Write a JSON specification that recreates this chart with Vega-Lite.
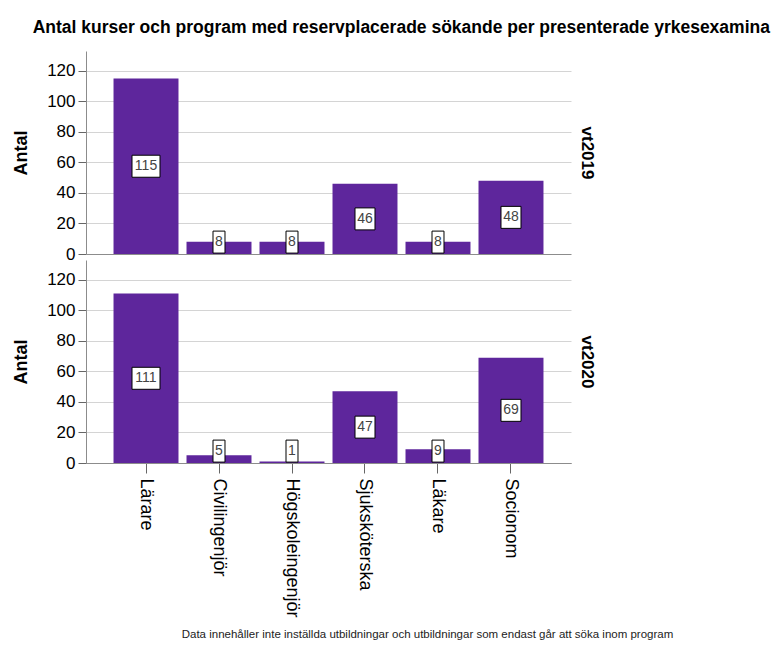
{
  "$schema": "https://vega.github.io/schema/vega-lite/v6.json",
  "padding": {"left": 12, "top": 18, "right": 2, "bottom": 5},
  "background": "white",
  "title": {
    "text": "Antal kurser och program med reservplacerade sökande per presenterade yrkesexamina",
    "anchor": "start",
    "frame": "bounds",
    "dx": 20,
    "fontSize": 17.5,
    "fontWeight": "bold",
    "font": "Liberation Sans",
    "color": "#000000",
    "offset": 15
  },
  "datasets": {
    "counts": [
      {"term": "vt2019", "category": "Lärare", "value": 115},
      {"term": "vt2019", "category": "Civilingenjör", "value": 8},
      {"term": "vt2019", "category": "Högskoleingenjör", "value": 8},
      {"term": "vt2019", "category": "Sjuksköterska", "value": 46},
      {"term": "vt2019", "category": "Läkare", "value": 8},
      {"term": "vt2019", "category": "Socionom", "value": 48},
      {"term": "vt2020", "category": "Lärare", "value": 111},
      {"term": "vt2020", "category": "Civilingenjör", "value": 5},
      {"term": "vt2020", "category": "Högskoleingenjör", "value": 1},
      {"term": "vt2020", "category": "Sjuksköterska", "value": 47},
      {"term": "vt2020", "category": "Läkare", "value": 9},
      {"term": "vt2020", "category": "Socionom", "value": 69}
    ]
  },
  "data": {"name": "counts"},
  "spacing": 6,
  "bounds": "flush",
  "vconcat": [
    {
      "width": 485,
      "height": 203,
      "transform": [{"filter": "datum.term === 'vt2019'"}],
      "resolve": {"scale": {"y": "independent"}},
      "layer": [
        {
          "mark": {"type": "bar", "color": "#5e269c"},
          "encoding": {
            "x": {
              "field": "category", "type": "nominal", "sort": null,
              "scale": {"paddingInner": 0.11, "paddingOuter": 0.377},
              "axis": null
            },
            "y": {
              "field": "value", "type": "quantitative",
              "scale": {"domain": [0, 133], "nice": false},
              "axis": {
                "title": "Antal",
                "values": [0, 20, 40, 60, 80, 100, 120],
                "titleFontSize": 18, "titleFontWeight": "bold", "titleFont": "Liberation Sans", "titleColor": "#000000",
                "titlePadding": 16,
                "labelFontSize": 17, "labelFont": "Liberation Sans", "labelColor": "#000000", "labelPadding": 3,
                "tickSize": 8, "tickColor": "#666666", "domainColor": "#8c8c8c",
                "grid": true,
                "gridColor": {"condition": {"test": "datum.value === 0", "value": "#8c8c8c"}, "value": "#d4d4d4"}
              }
            }
          }
        },
        {
          "transform": [{"filter": "datum.value < 10"}],
          "mark": {"type": "point", "shape": "M-0.545,-1L0.545,-1L0.545,1L-0.545,1Z", "size": 484, "filled": true, "fill": "#ffffff", "stroke": "#000000", "strokeWidth": 1, "opacity": 1},
          "encoding": {
            "x": {"field": "category", "type": "nominal", "sort": null},
            "y": {"datum": 15.6, "type": "quantitative", "scale": {"domain": [0, 266], "nice": false},
              "axis": {"orient": "right", "title": "vt2019", "labels": false, "ticks": false, "domain": false, "grid": false,
                "titleFontSize": 17, "titleFontWeight": "bold", "titleFont": "Liberation Sans", "titleColor": "#000000", "titlePadding": 6, "titleAngle": 90}}
          }
        },
        {
          "transform": [{"filter": "datum.value >= 10 && datum.value < 100"}],
          "mark": {"type": "point", "shape": "M-0.909,-1L0.909,-1L0.909,1L-0.909,1Z", "size": 484, "filled": true, "fill": "#ffffff", "stroke": "#000000", "strokeWidth": 1, "opacity": 1},
          "encoding": {
            "x": {"field": "category", "type": "nominal", "sort": null},
            "y": {"field": "value", "type": "quantitative", "scale": {"domain": [0, 266], "nice": false}, "axis": null}
          }
        },
        {
          "transform": [{"filter": "datum.value >= 100"}],
          "mark": {"type": "point", "shape": "M-1,-0.786L1,-0.786L1,0.786L-1,0.786Z", "size": 784, "filled": true, "fill": "#ffffff", "stroke": "#000000", "strokeWidth": 1, "opacity": 1},
          "encoding": {
            "x": {"field": "category", "type": "nominal", "sort": null},
            "y": {"field": "value", "type": "quantitative", "scale": {"domain": [0, 266], "nice": false}, "axis": null}
          }
        },
        {
          "transform": [{"filter": "datum.value < 10"}],
          "mark": {"type": "text", "fontSize": 14, "font": "Liberation Sans", "color": "#444444", "baseline": "middle", "align": "center"},
          "encoding": {
            "x": {"field": "category", "type": "nominal", "sort": null},
            "y": {"datum": 15.6, "type": "quantitative", "scale": {"domain": [0, 266], "nice": false}, "axis": null},
            "text": {"field": "value", "type": "quantitative"}
          }
        },
        {
          "transform": [{"filter": "datum.value >= 10"}],
          "mark": {"type": "text", "fontSize": 14, "font": "Liberation Sans", "color": "#444444", "baseline": "middle", "align": "center"},
          "encoding": {
            "x": {"field": "category", "type": "nominal", "sort": null},
            "y": {"field": "value", "type": "quantitative", "scale": {"domain": [0, 266], "nice": false}, "axis": null},
            "text": {"field": "value", "type": "quantitative"}
          }
        }
      ]
    },
    {
      "width": 485,
      "height": 203,
      "transform": [{"filter": "datum.term === 'vt2020'"}],
      "resolve": {"scale": {"y": "independent"}},
      "layer": [
        {
          "mark": {"type": "bar", "color": "#5e269c"},
          "encoding": {
            "x": {
              "field": "category", "type": "nominal", "sort": null,
              "scale": {"paddingInner": 0.11, "paddingOuter": 0.377},
              "axis": {
                "title": "Data innehåller inte inställda utbildningar och utbildningar som endast går att söka inom program",
                "titleX": 341, "titleY": 171, "titleAlign": "center", "titleBaseline": "middle",
                "titleFontSize": 11.5, "titleFontWeight": "normal", "titleFont": "Liberation Sans", "titleColor": "#222222",
                "labelAngle": 90, "labelAlign": "left", "labelBaseline": "middle",
                "labelFontSize": 18, "labelFont": "Liberation Sans", "labelColor": "#000000", "labelPadding": 5,
                "tickSize": 10, "tickColor": "#666666", "domainColor": "#8c8c8c", "grid": false
              }
            },
            "y": {
              "field": "value", "type": "quantitative",
              "scale": {"domain": [0, 133], "nice": false},
              "axis": {
                "title": "Antal",
                "values": [0, 20, 40, 60, 80, 100, 120],
                "titleFontSize": 18, "titleFontWeight": "bold", "titleFont": "Liberation Sans", "titleColor": "#000000",
                "titlePadding": 16,
                "labelFontSize": 17, "labelFont": "Liberation Sans", "labelColor": "#000000", "labelPadding": 3,
                "tickSize": 8, "tickColor": "#666666", "domainColor": "#8c8c8c",
                "grid": true,
                "gridColor": {"condition": {"test": "datum.value === 0", "value": "#8c8c8c"}, "value": "#d4d4d4"}
              }
            }
          }
        },
        {
          "transform": [{"filter": "datum.value < 10"}],
          "mark": {"type": "point", "shape": "M-0.545,-1L0.545,-1L0.545,1L-0.545,1Z", "size": 484, "filled": true, "fill": "#ffffff", "stroke": "#000000", "strokeWidth": 1, "opacity": 1},
          "encoding": {
            "x": {"field": "category", "type": "nominal", "sort": null},
            "y": {"datum": 15.6, "type": "quantitative", "scale": {"domain": [0, 266], "nice": false},
              "axis": {"orient": "right", "title": "vt2020", "labels": false, "ticks": false, "domain": false, "grid": false,
                "titleFontSize": 17, "titleFontWeight": "bold", "titleFont": "Liberation Sans", "titleColor": "#000000", "titlePadding": 6, "titleAngle": 90}}
          }
        },
        {
          "transform": [{"filter": "datum.value >= 10 && datum.value < 100"}],
          "mark": {"type": "point", "shape": "M-0.909,-1L0.909,-1L0.909,1L-0.909,1Z", "size": 484, "filled": true, "fill": "#ffffff", "stroke": "#000000", "strokeWidth": 1, "opacity": 1},
          "encoding": {
            "x": {"field": "category", "type": "nominal", "sort": null},
            "y": {"field": "value", "type": "quantitative", "scale": {"domain": [0, 266], "nice": false}, "axis": null}
          }
        },
        {
          "transform": [{"filter": "datum.value >= 100"}],
          "mark": {"type": "point", "shape": "M-1,-0.786L1,-0.786L1,0.786L-1,0.786Z", "size": 784, "filled": true, "fill": "#ffffff", "stroke": "#000000", "strokeWidth": 1, "opacity": 1},
          "encoding": {
            "x": {"field": "category", "type": "nominal", "sort": null},
            "y": {"field": "value", "type": "quantitative", "scale": {"domain": [0, 266], "nice": false}, "axis": null}
          }
        },
        {
          "transform": [{"filter": "datum.value < 10"}],
          "mark": {"type": "text", "fontSize": 14, "font": "Liberation Sans", "color": "#444444", "baseline": "middle", "align": "center"},
          "encoding": {
            "x": {"field": "category", "type": "nominal", "sort": null},
            "y": {"datum": 15.6, "type": "quantitative", "scale": {"domain": [0, 266], "nice": false}, "axis": null},
            "text": {"field": "value", "type": "quantitative"}
          }
        },
        {
          "transform": [{"filter": "datum.value >= 10"}],
          "mark": {"type": "text", "fontSize": 14, "font": "Liberation Sans", "color": "#444444", "baseline": "middle", "align": "center"},
          "encoding": {
            "x": {"field": "category", "type": "nominal", "sort": null},
            "y": {"field": "value", "type": "quantitative", "scale": {"domain": [0, 266], "nice": false}, "axis": null},
            "text": {"field": "value", "type": "quantitative"}
          }
        }
      ]
    }
  ],
  "config": {
    "view": {"stroke": null},
    "font": "Liberation Sans"
  }
}
